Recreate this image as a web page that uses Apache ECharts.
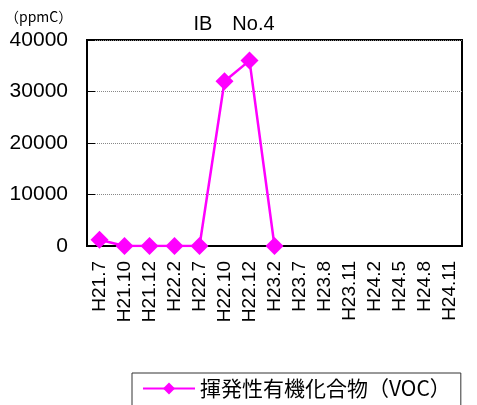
<!DOCTYPE html>
<html>
<head>
<meta charset="utf-8">
<script src="https://cdn.jsdelivr.net/npm/echarts@6/dist/echarts.min.js"></script>
<style>
  html, body { margin: 0; padding: 0; background: #fff; }
  #chart { width: 477px; height: 405px; }
</style>
</head>
<body>
<div id="chart"></div>
<script>
// 調査時期
var categories = ["H21.7", "H21.10", "H21.12", "H22.2", "H22.7", "H22.10", "H22.12",
  "H23.2", "H23.7", "H23.8", "H23.11", "H24.2", "H24.5", "H24.8", "H24.11"];
// 揮発性有機化合物 (ppmC)
var vocValues = [1200, 0, 0, 0, 0, 32000, 36000, 0, null, null, null, null, null, null, null];
var seriesName = "揮発性有機化合物（VOC）";

var chart = echarts.init(document.getElementById("chart"));

var option = {
  animation: false,
  title: [
    {
      text: "IB　No.4",
      left: 229,
      top: 9,
      textAlign: "center",
      textStyle: { fontFamily: "Liberation Sans", fontSize: 20, fontWeight: "normal", color: "#000" }
    },
    {
      text: "（ppmC）",
      left: 0,
      top: 5,
      textStyle: { fontFamily: "Noto Sans CJK JP", fontSize: 14, fontWeight: "normal", color: "#000" }
    }
  ],
  legend: {
    data: [seriesName],
    left: 132,
    top: 373,
    padding: [5, 10, 20, 10],
    borderColor: "#333",
    borderWidth: 1,
    itemWidth: 52,
    itemHeight: 15,
    itemGap: 5,
    textStyle: { fontFamily: "Noto Sans CJK JP", fontSize: 21, color: "#000" }
  },
  grid: {
    left: 87,
    top: 40,
    width: 375,
    height: 206,
    show: true,
    borderColor: "#000",
    borderWidth: 2,
    containLabel: false
  },
  xAxis: {
    type: "category",
    data: categories,
    boundaryGap: true,
    axisLine: { lineStyle: { color: "#000", width: 2 } },
    axisTick: { inside: true, length: 6, interval: 0, lineStyle: { color: "#000" } },
    axisLabel: {
      interval: 0,
      rotate: 90,
      margin: 15,
      fontFamily: "Liberation Sans",
      fontSize: 19,
      color: "#000"
    }
  },
  yAxis: {
    type: "value",
    min: 0,
    max: 40000,
    interval: 10000,
    axisLine: { show: true, lineStyle: { color: "#000", width: 2 } },
    axisTick: { show: true, inside: true, length: 8, lineStyle: { color: "#000" } },
    axisLabel: {
      margin: 19,
      fontFamily: "Liberation Sans",
      fontSize: 21,
      color: "#000",
      formatter: function (v) { return String(v); }
    },
    splitLine: { show: true, lineStyle: { color: "#888", type: "dotted", width: 1 } }
  },
  series: [
    {
      name: seriesName,
      type: "line",
      data: vocValues,
      connectNulls: false,
      symbol: "diamond",
      symbolSize: 18,
      itemStyle: { color: "#FF00FF" },
      lineStyle: { color: "#FF00FF", width: 2.5 }
    }
  ]
};

chart.setOption(option);
</script>
</body>
</html>
